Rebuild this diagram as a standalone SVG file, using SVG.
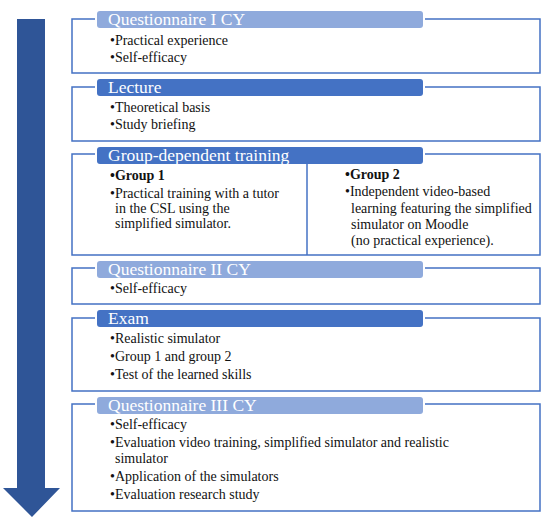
<svg xmlns="http://www.w3.org/2000/svg" width="550" height="523" viewBox="0 0 550 523">
<style>
.box{fill:none;stroke:#4472C4;stroke-width:1.5}
.hd1{fill:#8FAADC}
.hd2{fill:#4472C4}
.ht{font-family:"Liberation Serif","DejaVu Serif",serif;font-size:17.5px;fill:#fff}
.bt{font-family:"Liberation Serif","DejaVu Serif",serif;font-size:14px;fill:#111}
.b{font-weight:bold}
</style>
<rect width="550" height="523" fill="#fff"/>
<g id="connectors">
<polygon id="timeline-arrow" points="17,19 45,19 45,488 60,488 32,517 3,488 17,488" fill="#2F5597"/>
</g>
<g id="q1">
<path class="box" d="M95,19 H72 V73 H540 V19 H425"/>
<rect class="hd1" x="97" y="11" width="326" height="17" rx="3"/>
<text class="ht" x="108" y="25">Questionnaire I CY</text>
<text class="bt" x="110" y="45">•Practical experience</text>
<text class="bt" x="110" y="62">•Self-efficacy</text>
</g>
<g id="lecture">
<path class="box" d="M95,87 H72 V141 H540 V87 H425"/>
<rect class="hd2" x="97" y="79" width="326" height="17" rx="3"/>
<text class="ht" x="108" y="93">Lecture</text>
<text class="bt" x="110" y="112">•Theoretical basis</text>
<text class="bt" x="110" y="129">•Study briefing</text>
</g>
<g id="training">
<path class="box" d="M95,154 H72 V255 H540 V154 H425"/>
<line class="box" x1="307" y1="163" x2="307" y2="255"/>
<rect class="hd2" x="97" y="147" width="326" height="17" rx="3"/>
<text class="ht" x="108" y="161">Group-dependent training</text>
<text class="bt b" x="110" y="180">•Group 1</text>
<text class="bt" x="110" y="198">•Practical training with a tutor</text>
<text class="bt" x="115" y="213">in the CSL using the</text>
<text class="bt" x="115" y="228">simplified simulator.</text>
<text class="bt b" x="345" y="179">•Group 2</text>
<text class="bt" x="345" y="196">•Independent video-based</text>
<text class="bt" x="351" y="213">learning featuring the simplified</text>
<text class="bt" x="351" y="229">simulator on Moodle</text>
<text class="bt" x="351" y="245">(no practical experience).</text>
</g>
<g id="q2">
<path class="box" d="M95,268 H72 V304 H540 V268 H425"/>
<rect class="hd1" x="97" y="261" width="326" height="17" rx="3"/>
<text class="ht" x="108" y="275">Questionnaire II CY</text>
<text class="bt" x="110" y="293">•Self-efficacy</text>
</g>
<g id="exam">
<path class="box" d="M95,318 H72 V391 H540 V318 H425"/>
<rect class="hd2" x="97" y="310" width="326" height="17" rx="3"/>
<text class="ht" x="108" y="324">Exam</text>
<text class="bt" x="110" y="343">•Realistic simulator</text>
<text class="bt" x="110" y="361">•Group 1 and group 2</text>
<text class="bt" x="110" y="379">•Test of the learned skills</text>
</g>
<g id="q3">
<path class="box" d="M95,404 H72 V511 H540 V404 H425"/>
<rect class="hd1" x="97" y="397" width="326" height="17" rx="3"/>
<text class="ht" x="108" y="411">Questionnaire III CY</text>
<text class="bt" x="110" y="429">•Self-efficacy</text>
<text class="bt" x="110" y="447">•Evaluation video training, simplified simulator and realistic</text>
<text class="bt" x="115" y="463">simulator</text>
<text class="bt" x="110" y="481">•Application of the simulators</text>
<text class="bt" x="110" y="499">•Evaluation research study</text>
</g>
</svg>
